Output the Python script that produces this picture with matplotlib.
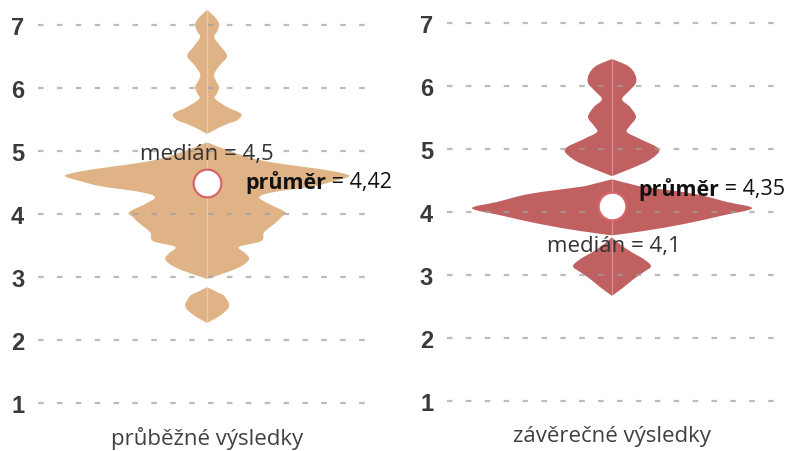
import matplotlib.pyplot as plt
from matplotlib import font_manager
from matplotlib.path import Path
from matplotlib.patches import PathPatch

# y ticks and panel labels
y_ticks = [1, 2, 3, 4, 5, 6, 7]
panel_labels = ["průběžné výsledky", "závěrečné výsledky"]
medians = [4.5, 4.1]
median_texts = ["medián = 4,5", "medián = 4,1"]
mean_texts = ["= 4,42", "= 4,35"]

# violin outlines: y level and half width (px-like units)
left_top_y = [7.24, 7.14, 7.02, 6.90, 6.81, 6.67, 6.51, 6.37, 6.22, 6.11, 6.02,
              5.92, 5.83, 5.70, 5.59, 5.49, 5.43, 5.35, 5.27]
left_top_w = [0, 7, 12, 10, 7, 13, 20, 13, 7, 9, 12, 10, 8, 20, 34, 30, 20, 9, 0]
left_mid_y = [5.14, 5.05, 4.97, 4.90, 4.84, 4.78, 4.72, 4.66, 4.60, 4.52, 4.44,
              4.35, 4.27, 4.16, 4.03, 3.95, 3.87, 3.71, 3.57, 3.48, 3.38, 3.29,
              3.19, 3.10, 2.97]
left_mid_w = [0, 14, 28, 42, 58, 82, 110, 132, 142, 126, 106, 67, 52, 62, 78, 74,
              69, 57, 54, 32, 38, 42, 36, 24, 0]
left_low_y = [2.84, 2.76, 2.70, 2.54, 2.40, 2.27]
left_low_w = [0, 10, 17, 22, 14, 0]

right_top_y = [6.43, 6.32, 6.19, 6.05, 5.92, 5.79, 5.67, 5.51, 5.37, 5.27, 5.16,
               5.00, 4.84, 4.71, 4.57]
right_top_w = [0, 16, 23, 24, 17, 10, 18, 24, 18, 15, 28, 47, 39, 22, 0]
right_mid_y = [4.52, 4.44, 4.40, 4.29, 4.16, 4.06, 3.94, 3.81, 3.70, 3.63]
right_mid_w = [0, 20, 32, 82, 115, 140, 109, 72, 32, 0]
right_low_y = [3.60, 3.49, 3.37, 3.25, 3.14, 3.05, 2.94, 2.81, 2.67]
right_low_w = [0, 8, 19, 32, 39, 32, 22, 12, 0]

violins = [
    [(left_top_y, left_top_w), (left_mid_y, left_mid_w), (left_low_y, left_low_w)],
    [(right_top_y, right_top_w), (right_mid_y, right_mid_w), (right_low_y, right_low_w)],
]
colors = ["#DFB386", "#C06060"]


def smooth_side(pts):
    # Catmull-Rom style bezier through the read outline points
    verts, codes = [], []
    n = len(pts)
    for k in range(n - 1):
        p0 = pts[max(k - 1, 0)]
        p1 = pts[k]
        p2 = pts[k + 1]
        p3 = pts[min(k + 2, n - 1)]
        c1 = (p1[0] + (p2[0] - p0[0]) / 6, p1[1] + (p2[1] - p0[1]) / 6)
        c2 = (p2[0] - (p3[0] - p1[0]) / 6, p2[1] - (p3[1] - p1[1]) / 6)
        verts += [c1, c2, p2]
        codes += [Path.CURVE4] * 3
    return verts, codes


def violin_patch(ys, ws, color):
    right = list(zip(ws, ys))
    left = [(-w, y) for w, y in reversed(right)]
    v1, c1 = smooth_side(right)
    v2, c2 = smooth_side(left)
    verts = [right[0]] + v1 + v2 + [right[0]]
    codes = [Path.MOVETO] + c1 + c2 + [Path.CLOSEPOLY]
    return PathPatch(Path(verts, codes), facecolor=color, lw=0, zorder=1)


names = {f.name for f in font_manager.fontManager.ttflist}
tick_font = "Liberation Sans Narrow" if "Liberation Sans Narrow" in names else "Liberation Sans"
text_font = "Open Sans"

fig = plt.figure(figsize=(7.93, 4.52), dpi=100)
axes = [
    fig.add_axes([0.048, 0.0365, 0.429, 0.9615]),
    fig.add_axes([0.5637, 0.0409, 0.4173, 0.9615]),
]
xlims = [(-169, 171), (-165, 166)]

for i, ax in enumerate(axes):
    for ys, ws in violins[i]:
        ax.add_patch(violin_patch(ys, ws, colors[i]))
        ax.plot([0, 0], [min(ys), max(ys)], color="white", alpha=0.3, lw=1, zorder=1.5)

    ax.set_xlim(*xlims[i])
    ax.set_ylim(0.5, 7.4)
    ax.set_yticks(y_ticks)
    ax.set_yticklabels([str(t) for t in y_ticks], fontfamily=tick_font,
                       fontweight="bold", fontsize=17, color="#3a3a3a")
    ax.set_xticks([])
    ax.tick_params(axis="y", length=0, pad=10)
    for s in ax.spines.values():
        s.set_visible(False)
    ax.set_axisbelow(False)
    ax.yaxis.grid(True, color="#a0a0a0", alpha=0.7, lw=1.6, linestyle=(0, (2.5, 6)))

    # median marker
    ax.plot(0, medians[i], "o", ms=20, mfc="white", mec="#D9646C", mew=1.6, zorder=5)

    ax.text(0, 0.45, panel_labels[i], ha="center", va="center", fontsize=16,
            family=text_font, color="#404040")

axes[0].text(0, 4.96, median_texts[0], ha="center", va="center", fontsize=16,
             family=text_font, color="#333333", zorder=6)
axes[1].text(2, 3.47, median_texts[1], ha="center", va="center", fontsize=16,
             family=text_font, color="#333333", zorder=6)

mean_pos = [(38, 4.51), (26, 4.37)]
for i, ax in enumerate(axes):
    x, y = mean_pos[i]
    t = ax.text(x, y, "průměr", ha="left", va="center", fontsize=15.5,
                family=text_font, fontweight="bold", color="#111111", zorder=6)
    ax.annotate(" " + mean_texts[i], xy=(1, 0.5), xycoords=t, ha="left", va="center",
                fontsize=15.5, family=text_font, color="#111111", zorder=6)

fig.savefig("out.png", dpi=100)
